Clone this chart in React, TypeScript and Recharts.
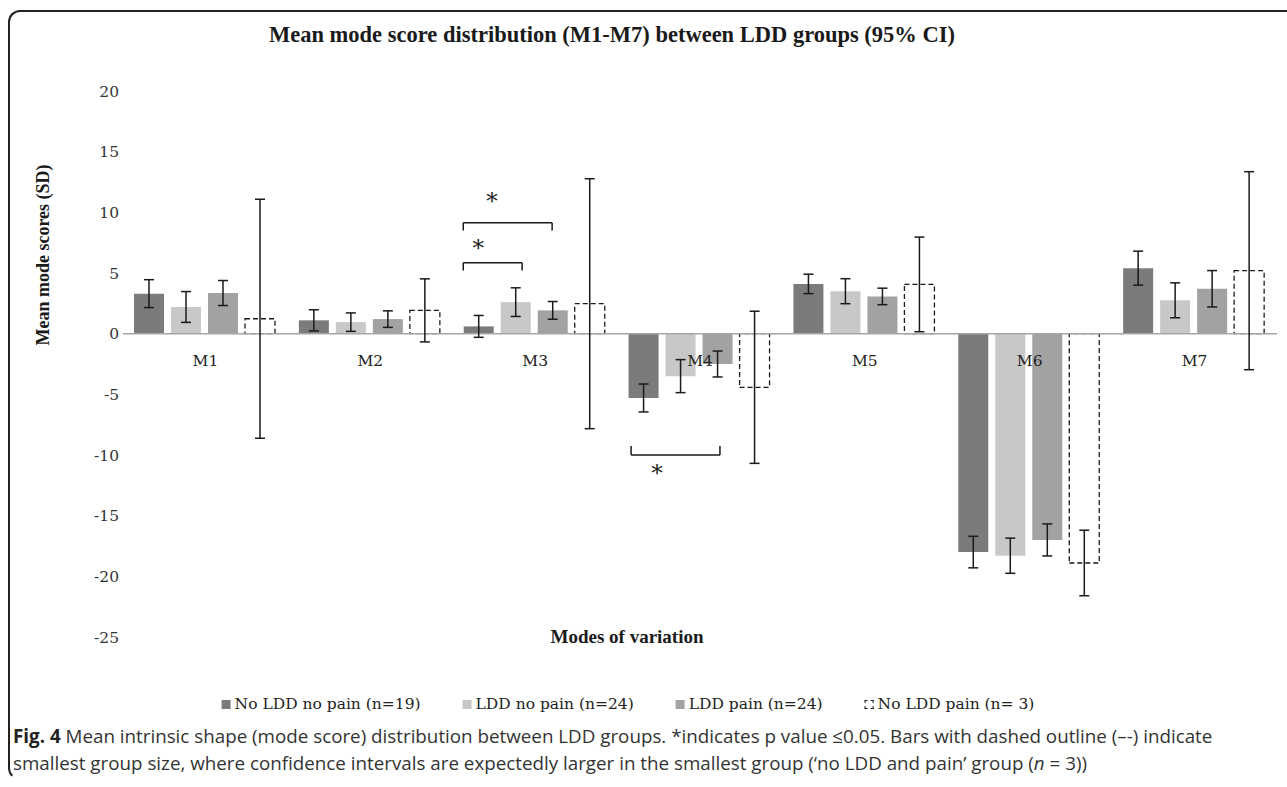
import React from "react";
import {
  Bar,
  BarChart,
  ErrorBar,
  ReferenceDot,
  ReferenceLine,
  XAxis,
  YAxis,
} from "recharts";

const MODES = ["M1", "M2", "M3", "M4", "M5", "M6", "M7"];

// mean mode scores and 95% CI half-widths, per group
const NO_LDD_NO_PAIN = [3.3, 1.1, 0.6, -5.3, 4.1, -18.0, 5.4];
const NO_LDD_NO_PAIN_CI = [1.15, 0.87, 0.9, 1.15, 0.8, 1.3, 1.4];
const LDD_NO_PAIN = [2.2, 0.95, 2.6, -3.5, 3.5, -18.3, 2.75];
const LDD_NO_PAIN_CI = [1.27, 0.76, 1.18, 1.36, 1.03, 1.45, 1.44];
const LDD_PAIN = [3.35, 1.2, 1.92, -2.5, 3.07, -17.0, 3.7];
const LDD_PAIN_CI = [1.03, 0.68, 0.73, 1.07, 0.68, 1.32, 1.5];
const NO_LDD_PAIN = [1.23, 1.92, 2.47, -4.42, 4.06, -18.9, 5.19];
const NO_LDD_PAIN_CI = [9.85, 2.6, 10.3, 6.27, 3.9, 2.7, 8.16];

const Y_TICKS = [20, 15, 10, 5, 0, -5, -10, -15, -20, -25];

// significance brackets: category, span inside the category (0..1), height, leg length
const BRACKETS = [
  { mode: "M3", from: 0.064, to: 0.421, y: 5.85, leg: -0.65 },
  { mode: "M3", from: 0.064, to: 0.603, y: 9.15, leg: -0.65 },
  { mode: "M4", from: 0.082, to: 0.621, y: -10.0, leg: 0.75 },
];
const STARS = [
  { mode: "M3", at: 0.155, y: 7.6 },
  { mode: "M3", at: 0.239, y: 11.45 },
  { mode: "M4", at: 0.239, y: -11.0 },
];

const SERIES = [
  { key: "a", name: "No LDD no pain (n=19)", values: NO_LDD_NO_PAIN, ci: NO_LDD_NO_PAIN_CI, fill: "#7b7b7b", dashed: false },
  { key: "b", name: "LDD no pain (n=24)", values: LDD_NO_PAIN, ci: LDD_NO_PAIN_CI, fill: "#c7c8c7", dashed: false },
  { key: "c", name: "LDD pain (n=24)", values: LDD_PAIN, ci: LDD_PAIN_CI, fill: "#a2a2a2", dashed: false },
  { key: "d", name: "No LDD pain (n= 3)", values: NO_LDD_PAIN, ci: NO_LDD_PAIN_CI, fill: "#ffffff", dashed: true },
];

const data = MODES.map((mode, i) => {
  const row: Record<string, string | number> = { mode, pos: i + 0.5 };
  SERIES.forEach((s) => {
    row[s.key] = s.values[i];
    row[s.key + "Ci"] = s.ci[i];
  });
  return row;
});

const SERIF = "'DejaVu Serif', serif";
const TIMES = "'Liberation Serif', 'Times New Roman', serif";
const INK = "#1a1a1a";

const posOf = (mode: string, frac: number) => MODES.indexOf(mode) + frac;

export default function App() {
  return (
    <div style={{ position: "absolute", left: 0, top: 0, width: 1287, height: 787, background: "#fff", overflow: "hidden" }}>
      <div
        style={{
          position: "absolute",
          left: 8,
          top: 10,
          width: 1300,
          height: 770,
          borderTop: "2px solid #222",
          borderLeft: "2px solid #222",
          borderBottom: "2px solid transparent",
          borderTopLeftRadius: 12,
          borderBottomLeftRadius: 12,
          boxSizing: "border-box",
        }}
      />
      <div
        style={{
          position: "absolute",
          left: 612,
          top: 35,
          transform: "translate(-50%, -50%)",
          whiteSpace: "nowrap",
          fontFamily: TIMES,
          fontWeight: "bold",
          fontSize: 22.5,
          color: INK,
        }}
      >
        Mean mode score distribution (M1-M7) between LDD groups (95% CI)
      </div>
      <div
        style={{
          position: "absolute",
          left: 43,
          top: 255,
          transform: "translate(-50%, -50%) rotate(-90deg)",
          whiteSpace: "nowrap",
          fontFamily: TIMES,
          fontWeight: "bold",
          fontSize: 18,
          color: INK,
        }}
      >
        Mean mode scores (SD)
      </div>
      <div
        style={{
          position: "absolute",
          left: 627,
          top: 637,
          transform: "translate(-50%, -50%)",
          whiteSpace: "nowrap",
          fontFamily: TIMES,
          fontWeight: "bold",
          fontSize: 19,
          color: INK,
        }}
      >
        Modes of variation
      </div>

      <div style={{ position: "absolute", left: 0, top: 0 }}>
        <BarChart
          width={1287}
          height={787}
          data={data}
          margin={{ top: 91, right: 10, bottom: 150, left: 63 }}
          barCategoryGap={11}
          barGap={7}
        >
          <XAxis dataKey="mode" xAxisId="cat" hide />
          <XAxis dataKey="pos" xAxisId="pos" type="number" domain={[0, 7]} allowDataOverflow hide />
          <YAxis
            width={60}
            domain={[-25, 20]}
            ticks={Y_TICKS}
            axisLine={false}
            tickLine={false}
            tickSize={0}
            tickMargin={4}
            interval={0}
            tick={{ fill: "#333", fontSize: 15.5, fontFamily: SERIF }}
          />
          <ReferenceLine y={0} xAxisId="cat" stroke="#a6a6a6" strokeWidth={1.5} />
          {SERIES.map((s) => (
            <Bar
              key={s.key}
              dataKey={s.key}
              name={s.name}
              xAxisId="cat"
              fill={s.fill}
              stroke={s.dashed ? INK : "none"}
              strokeWidth={s.dashed ? 1.3 : 0}
              strokeDasharray={s.dashed ? "5 3" : undefined}
              isAnimationActive={false}
            >
              <ErrorBar dataKey={s.key + "Ci"} width={5} stroke={INK} strokeWidth={1.5} />
            </Bar>
          ))}
          {MODES.map((m) => (
            <ReferenceDot
              key={m}
              x={m}
              y={0}
              xAxisId="cat"
              r={1}
              fill="none"
              stroke="none"
              label={{ value: m, position: "bottom", offset: 20, fill: "#222", fontSize: 15.5, fontFamily: SERIF }}
            />
          ))}
          {BRACKETS.map((b, i) => {
            const x1 = posOf(b.mode, b.from);
            const x2 = posOf(b.mode, b.to);
            return [
              <ReferenceLine key={`h${i}`} xAxisId="pos" ifOverflow="visible" stroke={INK} strokeWidth={1.5}
                segment={[{ x: x1, y: b.y }, { x: x2, y: b.y }]} />,
              <ReferenceLine key={`l${i}`} xAxisId="pos" ifOverflow="visible" stroke={INK} strokeWidth={1.5}
                segment={[{ x: x1, y: b.y }, { x: x1, y: b.y + b.leg }]} />,
              <ReferenceLine key={`r${i}`} xAxisId="pos" ifOverflow="visible" stroke={INK} strokeWidth={1.5}
                segment={[{ x: x2, y: b.y }, { x: x2, y: b.y + b.leg }]} />,
            ];
          })}
          {STARS.map((s, i) => (
            <ReferenceDot
              key={`s${i}`}
              x={posOf(s.mode, s.at)}
              y={s.y}
              xAxisId="pos"
              r={1}
              fill="none"
              stroke="none"
              ifOverflow="visible"
              label={{ value: "*", position: "center", fill: INK, fontSize: 23, fontFamily: SERIF, dy: 6 }}
            />
          ))}
        </BarChart>
      </div>

      <div
        style={{
          position: "absolute",
          left: 628,
          top: 704,
          transform: "translate(-50%, -50%)",
          display: "flex",
          gap: 42,
          whiteSpace: "nowrap",
          fontFamily: SERIF,
          fontSize: 15.5,
          color: "#222",
        }}
      >
        {SERIES.map((s) => (
          <div key={s.key} style={{ display: "flex", alignItems: "center", gap: 4 }}>
            <span
              style={{
                display: "inline-block",
                width: 9,
                height: 9,
                boxSizing: "border-box",
                background: s.fill,
                border: s.dashed ? `1px dashed ${INK}` : "none",
              }}
            />
            <span>{s.name}</span>
          </div>
        ))}
      </div>

      <div
        style={{
          position: "absolute",
          left: 13,
          top: 723,
          whiteSpace: "nowrap",
          fontFamily: "'Open Sans', 'Noto Sans', sans-serif",
          fontSize: 18.8,
          lineHeight: "27px",
          color: "#333",
        }}
      >
        <b style={{ color: "#222" }}>Fig. 4</b> Mean intrinsic shape (mode score) distribution between LDD groups. *indicates p value ≤0.05. Bars with dashed outline (–-) indicate
        <br />
        smallest group size, where confidence intervals are expectedly larger in the smallest group (‘no LDD and pain’ group (<i>n</i> = 3))
      </div>
    </div>
  );
}
